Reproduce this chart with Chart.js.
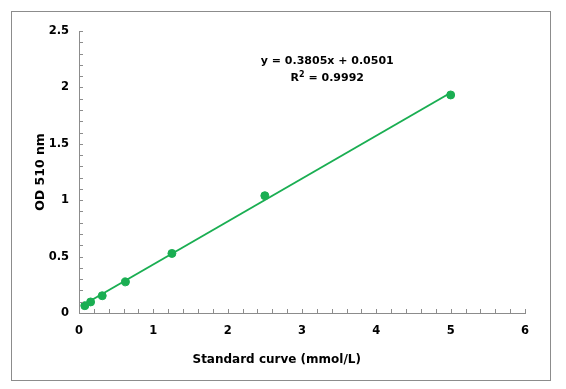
<!DOCTYPE html>
<html>
<head>
<meta charset="utf-8">
<script src="https://cdn.jsdelivr.net/npm/chart.js@4/dist/chart.umd.min.js"></script>
<style>
  html, body { margin: 0; padding: 0; background: #fff; }
  #wrap { position: relative; width: 566px; height: 389px; }
  #frame { position: absolute; left: 11px; top: 11px; width: 538px; height: 368px; border: 1px solid #8c8c8c; }
  canvas { position: absolute; left: 0; top: 0; }
</style>
</head>
<body>
<div id="wrap">
  <div id="frame"></div>
  <canvas id="chart" width="566" height="389"></canvas>
</div>
<script>
// data
const concentrations = [0.078, 0.156, 0.3125, 0.625, 1.25, 2.5, 5];
const odValues = [0.065, 0.098, 0.153, 0.276, 0.528, 1.04, 1.933];

// fitted line shown on the chart
const slope = 0.3805;
const intercept = 0.0501;
const rSquared = 0.9992;

const xTicks = [0, 1, 2, 3, 4, 5, 6];
const yTicks = [0, 0.5, 1, 1.5, 2, 2.5];

const green = "#1aae52";
const axisGray = "#8c8c8c";
const fam = "'DejaVu Sans', Verdana, sans-serif";
const font = { family: fam, weight: "bold", size: 11.5 };

const isMajor = (v, list) => list.some(t => Math.abs(t - v) < 1e-6);

const trendX = [concentrations[0], concentrations[concentrations.length - 1]];
const trendPoints = trendX.map(x => ({ x: x, y: slope * x + intercept }));

/* inside tick marks on both axes */
const insideTicks = {
  id: "insideTicks",
  afterDraw(chart) {
    const { ctx, chartArea, scales } = chart;
    ctx.save();
    ctx.strokeStyle = axisGray;
    ctx.lineWidth = 1;
    ctx.beginPath();
    scales.y.ticks.forEach(t => {
      const py = Math.round(scales.y.getPixelForValue(t.value)) + 0.5;
      ctx.moveTo(chartArea.left, py);
      ctx.lineTo(chartArea.left + 4, py);
    });
    scales.x.ticks.forEach(t => {
      const px = Math.round(scales.x.getPixelForValue(t.value)) + 0.5;
      ctx.moveTo(px, chartArea.bottom);
      ctx.lineTo(px, chartArea.bottom - 4);
    });
    ctx.stroke();
    ctx.restore();
  }
};

/* equation + R² label, and the x title (sits left of centre in the original) */
const textLabels = {
  id: "textLabels",
  afterDatasetsDraw(chart) {
    const { ctx, scales, chartArea } = chart;
    const cx = scales.x.getPixelForValue(3.34);
    const cy = scales.y.getPixelForValue(2.23);
    ctx.save();
    ctx.fillStyle = "#000";
    ctx.textBaseline = "middle";
    ctx.font = "bold 11px " + fam;
    ctx.textAlign = "center";
    ctx.fillText("y = " + slope + "x + " + intercept.toFixed(4), cx, cy);
    // R² line with superscript
    const r = "R", rest = " = " + rSquared;
    const wR = ctx.measureText(r).width;
    const wRest = ctx.measureText(rest).width;
    ctx.font = "bold 8px " + fam;
    const wSup = ctx.measureText("2").width;
    const total = wR + wSup + wRest;
    const x0 = cx - total / 2;
    const y2 = cy + 17;
    ctx.textAlign = "left";
    ctx.font = "bold 11px " + fam;
    ctx.fillText(r, x0, y2);
    ctx.font = "bold 8px " + fam;
    ctx.fillText("2", x0 + wR, y2 - 4);
    ctx.font = "bold 11px " + fam;
    ctx.fillText(rest, x0 + wR + wSup, y2);

    ctx.textAlign = "center";
    ctx.font = "bold 12px " + fam;
    ctx.fillText("Standard curve (mmol/L)", scales.x.getPixelForValue(2.66), chartArea.bottom + 47);
    ctx.restore();
  }
};

new Chart(document.getElementById("chart").getContext("2d"), {
  type: "scatter",
  data: {
    datasets: [
      {
        type: "line",
        data: trendPoints,
        borderColor: green,
        borderWidth: 2,
        pointRadius: 0,
        fill: false,
        order: 2
      },
      {
        data: concentrations.map((x, i) => ({ x: x, y: odValues[i] })),
        backgroundColor: green,
        borderColor: green,
        pointRadius: 4,
        order: 1
      }
    ]
  },
  options: {
    responsive: false,
    animation: false,
    layout: { padding: { left: 33, right: 41, top: 31, bottom: 0 } },
    plugins: { legend: { display: false }, tooltip: { enabled: false } },
    scales: {
      x: {
        type: "linear",
        min: 0, max: 6,
        afterFit: s => { s.height = 76; },
        afterBuildTicks: s => {
          const t = [];
          for (let i = 0; i <= 30; i++) t.push({ value: i * 0.2 });
          s.ticks = t;
        },
        ticks: {
          autoSkip: false,
          maxRotation: 0,
          padding: 11,
          color: "#000",
          font: font,
          callback: v => isMajor(v, xTicks) ? String(Math.round(v)) : ""
        },
        grid: { display: false, drawTicks: false },
        border: { display: true, color: axisGray, width: 1 },
        title: { display: false }
      },
      y: {
        type: "linear",
        min: 0, max: 2.5,
        afterFit: s => { s.width = 46; },
        afterBuildTicks: s => {
          const t = [];
          for (let i = 0; i <= 25; i++) t.push({ value: i * 0.1 });
          s.ticks = t;
        },
        ticks: {
          autoSkip: false,
          padding: 10,
          color: "#000",
          font: font,
          callback: v => isMajor(v, yTicks) ? String(Math.round(v * 10) / 10) : ""
        },
        grid: { display: false, drawTicks: false },
        border: { display: true, color: axisGray, width: 1 },
        title: {
          display: true,
          text: "OD 510 nm",
          color: "#000",
          font: { family: fam, weight: "bold", size: 12.5 },
          padding: { top: 0, bottom: 0 }
        }
      }
    }
  },
  plugins: [insideTicks, textLabels]
});
</script>
</body>
</html>
